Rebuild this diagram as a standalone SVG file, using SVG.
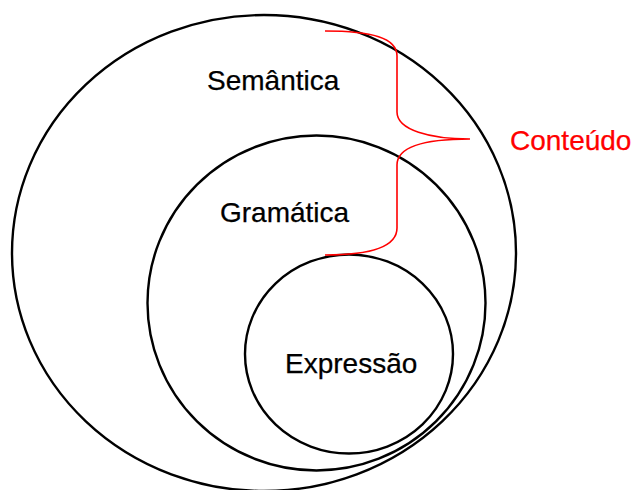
<svg xmlns="http://www.w3.org/2000/svg" width="635" height="490" viewBox="0 0 635 490">
<style>
.ring{fill:none;stroke:#000;stroke-width:2.4}
.lbl{font-family:"Liberation Sans",Arial,sans-serif;font-size:28px;fill:#000;stroke:#000;stroke-width:0.25}
.red{fill:#ff0000;stroke:#ff0000}
.brace{fill:none;stroke:#ff0000;stroke-width:1.6}
</style>
<rect width="635" height="490" fill="#fff"/>
<g id="semantica">
<ellipse class="ring" cx="264" cy="253" rx="252" ry="238"/>
<text class="lbl" x="207" y="90">Semântica</text>
</g>
<g id="gramatica">
<ellipse class="ring" cx="316.5" cy="303" rx="169" ry="167.5"/>
<text class="lbl" x="220" y="222">Gramática</text>
</g>
<g id="expressao">
<ellipse class="ring" cx="349" cy="354" rx="104" ry="99.5"/>
<text class="lbl" x="285" y="373">Expressão</text>
</g>
<g id="connectors">
<path class="brace" d="M325,31 C372,31 397,38 397,56 L397,112 C397,130 430,139 470,139 C430,139 397,145 397,165 L397,228 C397,246 372,255 325,255"/>
</g>
<g id="conteudo">
<text class="lbl red" x="510" y="150">Conteúdo</text>
</g>
</svg>
